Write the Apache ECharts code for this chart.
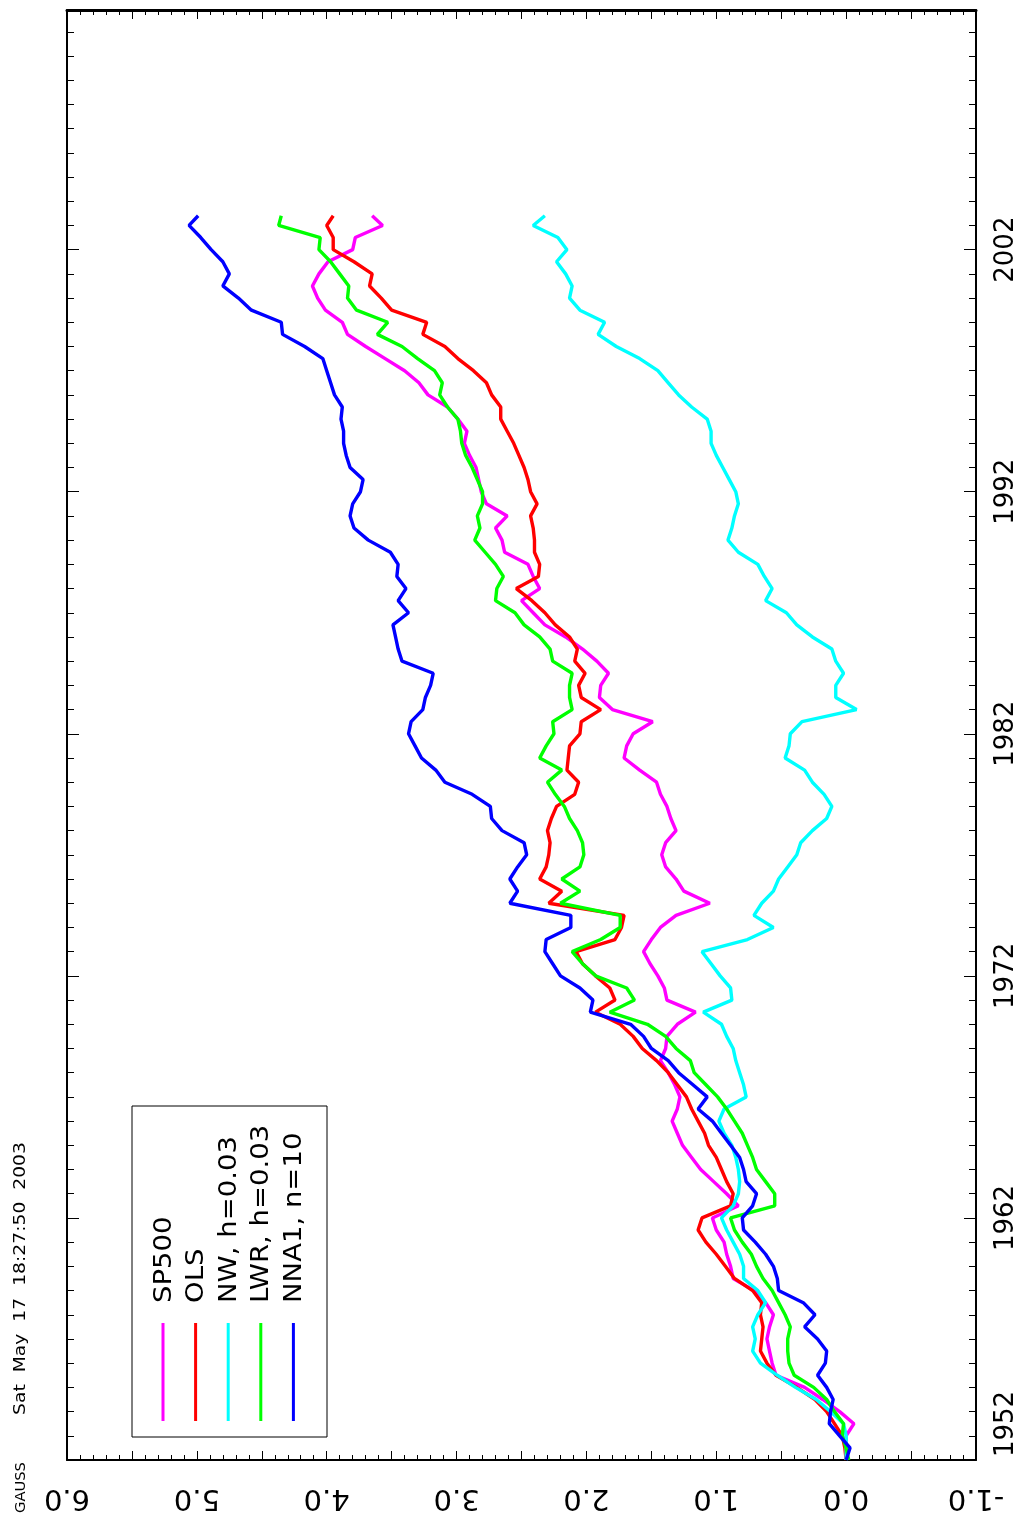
<!DOCTYPE html>
<html><head><meta charset="utf-8">
<script src="https://cdn.jsdelivr.net/npm/echarts@6/dist/echarts.min.js"></script>
<style>html,body{margin:0;padding:0;background:#fff}#c{width:1027px;height:1524px}</style>
</head><body><div id="c"></div>
<script>
const years = [1952,1952.5,1953,1953.5,1954,1954.5,1955,1955.5,1956,1956.5,
1957,1957.5,1958,1958.5,1959,1959.5,1960,1960.5,1961,1961.5,
1962,1962.5,1963,1963.5,1964,1964.5,1965,1965.5,1966,1966.5,
1967,1967.5,1968,1968.5,1969,1969.5,1970,1970.5,1971,1971.5,
1972,1972.5,1973,1973.5,1974,1974.5,1975,1975.5,1976,1976.5,
1977,1977.5,1978,1978.5,1979,1979.5,1980,1980.5,1981,1981.5,
1982,1982.5,1983,1983.5,1984,1984.5,1985,1985.5,1986,1986.5,
1987,1987.5,1988,1988.5,1989,1989.5,1990,1990.5,1991,1991.5,
1992,1992.5,1993,1993.5,1994,1994.5,1995,1995.5,1996,1996.5,
1997,1997.5,1998,1998.5,1999,1999.5,2000,2000.5,2001,2001.5,
2002,2002.5,2003,2003.4];

const sp500 = [0.00,0.00,0.00,-0.06,0.05,0.18,0.32,0.54,0.57,0.59,
0.61,0.59,0.56,0.62,0.71,0.87,0.89,0.92,0.94,1.00,
1.03,0.83,0.92,1.02,1.12,1.19,1.26,1.30,1.34,1.30,
1.28,1.32,1.37,1.43,1.39,1.38,1.30,1.16,1.38,1.40,
1.45,1.51,1.56,1.50,1.43,1.31,1.05,1.25,1.31,1.39,
1.42,1.39,1.31,1.35,1.38,1.43,1.46,1.59,1.71,1.69,
1.64,1.49,1.80,1.90,1.89,1.83,1.92,2.03,2.16,2.32,
2.41,2.50,2.36,2.41,2.45,2.63,2.65,2.70,2.61,2.77,
2.81,2.83,2.85,2.90,2.94,2.92,2.99,3.07,3.22,3.29,
3.40,3.55,3.70,3.84,3.88,4.01,4.07,4.11,4.06,3.99,
3.80,3.78,3.57,3.65];

const ols = [0.00,0.01,0.03,0.09,0.15,0.24,0.38,0.54,0.61,0.66,
0.65,0.64,0.66,0.65,0.72,0.86,0.93,1.00,1.08,1.14,
1.11,0.89,0.87,0.92,0.96,1.00,1.06,1.09,1.14,1.19,
1.23,1.30,1.37,1.46,1.57,1.64,1.74,1.93,1.78,1.82,
1.93,2.03,2.08,1.78,1.73,1.71,2.29,2.19,2.36,2.31,
2.29,2.28,2.30,2.27,2.23,2.09,2.06,2.15,2.14,2.13,
2.05,2.04,1.89,2.04,2.06,2.01,2.09,2.07,2.13,2.24,
2.32,2.42,2.54,2.37,2.36,2.40,2.40,2.41,2.43,2.38,
2.43,2.45,2.48,2.52,2.56,2.61,2.66,2.66,2.73,2.77,
2.87,2.99,3.09,3.26,3.23,3.50,3.58,3.67,3.65,3.79,
3.95,3.95,4.00,3.95];

const nw = [0.00,0.00,0.00,0.02,0.12,0.23,0.39,0.53,0.66,0.72,
0.70,0.72,0.68,0.62,0.68,0.79,0.79,0.82,0.87,0.92,
0.96,0.87,0.83,0.82,0.83,0.85,0.88,0.94,0.98,0.94,
0.77,0.79,0.82,0.85,0.87,0.92,0.96,1.10,0.88,0.89,
0.97,1.04,1.11,0.76,0.56,0.71,0.65,0.56,0.52,0.45,
0.38,0.35,0.26,0.15,0.11,0.17,0.26,0.32,0.47,0.44,
0.43,0.34,-0.08,0.08,0.08,0.02,0.08,0.11,0.26,0.38,
0.46,0.62,0.57,0.63,0.68,0.83,0.91,0.88,0.86,0.83,
0.85,0.90,0.95,1.00,1.04,1.04,1.07,1.19,1.29,1.37,
1.45,1.59,1.77,1.91,1.86,2.05,2.13,2.11,2.16,2.23,
2.15,2.22,2.41,2.32];

const lwr = [-0.02,0.00,0.03,0.02,0.09,0.15,0.25,0.40,0.44,0.45,
0.45,0.43,0.47,0.52,0.57,0.64,0.69,0.73,0.80,0.86,
0.89,0.55,0.55,0.62,0.69,0.72,0.76,0.80,0.86,0.92,
0.99,1.08,1.17,1.20,1.31,1.39,1.53,1.82,1.63,1.69,
1.93,2.03,2.11,1.89,1.74,1.74,2.20,2.05,2.19,2.05,
2.02,2.03,2.07,2.13,2.17,2.24,2.30,2.19,2.36,2.31,
2.25,2.26,2.11,2.13,2.13,2.11,2.26,2.28,2.36,2.48,
2.55,2.70,2.69,2.64,2.70,2.78,2.86,2.82,2.84,2.80,
2.80,2.84,2.88,2.93,2.96,2.97,2.99,3.07,3.13,3.11,
3.17,3.30,3.42,3.61,3.53,3.77,3.84,3.83,3.90,3.97,
4.06,4.05,4.37,4.35];

const nna1 = [0.00,-0.03,0.05,0.13,0.12,0.10,0.15,0.22,0.16,0.15,
0.22,0.32,0.24,0.33,0.52,0.53,0.56,0.62,0.70,0.79,
0.80,0.72,0.69,0.77,0.79,0.82,0.89,0.96,1.03,1.14,
1.07,1.18,1.29,1.37,1.50,1.56,1.66,1.97,1.95,2.05,
2.20,2.26,2.32,2.31,2.12,2.12,2.59,2.53,2.59,2.53,
2.46,2.48,2.65,2.73,2.74,2.88,3.09,3.16,3.27,3.32,
3.37,3.35,3.26,3.24,3.20,3.18,3.42,3.45,3.47,3.49,
3.37,3.45,3.39,3.46,3.45,3.51,3.68,3.79,3.82,3.80,
3.74,3.72,3.82,3.85,3.87,3.87,3.89,3.88,3.94,3.97,
4.00,4.03,4.17,4.34,4.35,4.58,4.68,4.80,4.75,4.80,
4.89,4.97,5.06,4.99];

const seriesNames = ['SP500','OLS','NW, h=0.03','LWR, h=0.03','NNA1, n=10'];
const seriesValues = [sp500, ols, nw, lwr, nna1];
const seriesColors = ['#ff00ff','#ff0000','#00ffff','#00ff00','#0000ff'];
const yearLabels = [1952,1962,1972,1982,1992,2002];
const yearTicks = [1953,1954,1955,1956,1957,1958,1959,1960,1961,1963,1964,1965,1966,1967,1968,1969,1970,1971,
1973,1974,1975,1976,1977,1978,1979,1980,1981,1983,1984,1985,1986,1987,1988,1989,1990,1991,
1993,1994,1995,1996,1997,1998,1999,2000,2001,2003,2004,2005,2006,2007,2008,2009,2010,2011];
const valueLabels = [-1,0,1,2,3,4,5,6];
const titleText = 'GAUSS';
const dateText = 'Sat  May  17  18:27:50  2003';

const chart = echarts.init(document.getElementById('c'));
const FONT = 'DejaVu Sans';
const gridRect = {left:67, right:51, top:10, bottom:64, outerBoundsMode:'none'};
const tickStyle = {color:'#000', width:1};
const xBase = {type:'value', min:-1, max:6, inverse:true, interval:0.5, splitLine:{show:false}};
const yBase = {type:'value', min:1952, max:2011.9, splitLine:{show:false}};

const xAxes = [
  Object.assign({}, xBase, {gridIndex:0, position:'bottom',
    axisLine:{show:true, onZero:false, lineStyle:{color:'#000', width:2}},
    axisTick:{show:true, inside:true, length:9, lineStyle:tickStyle},
    minorTick:{show:true, splitNumber:5, length:5, lineStyle:tickStyle},
    axisLabel:{show:false}}),
  Object.assign({}, xBase, {gridIndex:0, position:'top',
    axisLine:{show:true, onZero:false, lineStyle:{color:'#000', width:3}},
    axisTick:{show:true, inside:true, length:9, lineStyle:tickStyle},
    minorTick:{show:true, splitNumber:5, length:5, lineStyle:tickStyle},
    axisLabel:{show:false}}),
  Object.assign({}, xBase, {gridIndex:1, show:false})
];
const yAxes = [
  Object.assign({}, yBase, {gridIndex:0, position:'right',
    axisLine:{show:true, onZero:false, lineStyle:{color:'#000', width:2}},
    axisTick:{show:true, inside:true, length:12, customValues: yearLabels, lineStyle:tickStyle},
    axisLabel:{show:true, rotate:90, margin:17, color:'#000', fontSize:26, fontFamily:FONT,
      customValues: yearLabels,
      formatter: v => v === yearLabels[0] ? '{m|' + v + '}' : String(v),
      rich:{m:{fontSize:26, fontFamily:FONT, color:'#000', padding:[0,0,0,72]}}}}),
  Object.assign({}, yBase, {gridIndex:0, position:'left',
    axisLine:{show:true, onZero:false, lineStyle:{color:'#000', width:2}},
    axisTick:{show:true, inside:true, length:12, customValues: yearLabels, lineStyle:tickStyle},
    axisLabel:{show:false}}),
  Object.assign({}, yBase, {gridIndex:1, position:'right',
    axisLine:{show:false, onZero:false},
    axisTick:{show:true, inside:true, length:7, customValues: yearTicks, lineStyle:tickStyle},
    axisLabel:{show:false}}),
  Object.assign({}, yBase, {gridIndex:1, position:'left',
    axisLine:{show:false, onZero:false},
    axisTick:{show:true, inside:true, length:7, customValues: yearTicks, lineStyle:tickStyle},
    axisLabel:{show:false}})
];

const series = seriesNames.map((name, i) => ({
  type:'line', name, xAxisIndex:0, yAxisIndex:0,
  data: years.map((yr, j) => [seriesValues[i][j], yr]),
  symbol:'none', showSymbol:false, smooth:false, z: 2 + i,
  lineStyle:{color:seriesColors[i], width:3.4}, itemStyle:{color:seriesColors[i]}
}));

// legend box drawn as graphic (rotated like the chart)
const legendX0 = 163, legendDX = 32.6;
const graphic = [
  {type:'rect', shape:{x:132, y:1106, width:195, height:331}, style:{fill:'none', stroke:'#000', lineWidth:1}, z:10}
];
seriesNames.forEach((name, i) => {
  const x = legendX0 + i * legendDX;
  graphic.push({type:'line', shape:{x1:x, y1:1323, x2:x, y2:1421}, style:{stroke:seriesColors[i], lineWidth:3}, z:10});
  graphic.push({type:'text', x:x + 1, y:1303, rotation:Math.PI/2, scaleX:1.1, z:10,
    style:{text:name, font:'25px "DejaVu Sans"', fill:'#000', align:'left', verticalAlign:'middle'}});
});
graphic.push({type:'text', x:21, y:1513, rotation:Math.PI/2, scaleX:1.05, z:10,
  style:{text:titleText, font:'14px "DejaVu Sans"', fill:'#000', align:'left', verticalAlign:'middle'}});
graphic.push({type:'text', x:21, y:1415, rotation:Math.PI/2, scaleX:1.25, z:10,
  style:{text:dateText, font:'15px "DejaVu Sans"', fill:'#000', align:'left', verticalAlign:'middle'}});

chart.setOption({
  animation:false,
  backgroundColor:'#ffffff',
  grid:[Object.assign({}, gridRect), Object.assign({}, gridRect)],
  xAxis:xAxes, yAxis:yAxes, series, graphic
});

// value-axis tick labels, upside down as in the rotated original; positioned through the axis scale
const labelGraphics = valueLabels.map(v => {
  const p = chart.convertToPixel({gridIndex:0}, [v, yBase.min]);
  return {type:'text', x:p[0], y:p[1] + 38, rotation:Math.PI, z:10,
    style:{text:v.toFixed(1), font:'29px "DejaVu Sans"', fill:'#000', align:'center', verticalAlign:'middle'}};
});
chart.setOption({graphic: graphic.concat(labelGraphics)});
</script></body></html>
